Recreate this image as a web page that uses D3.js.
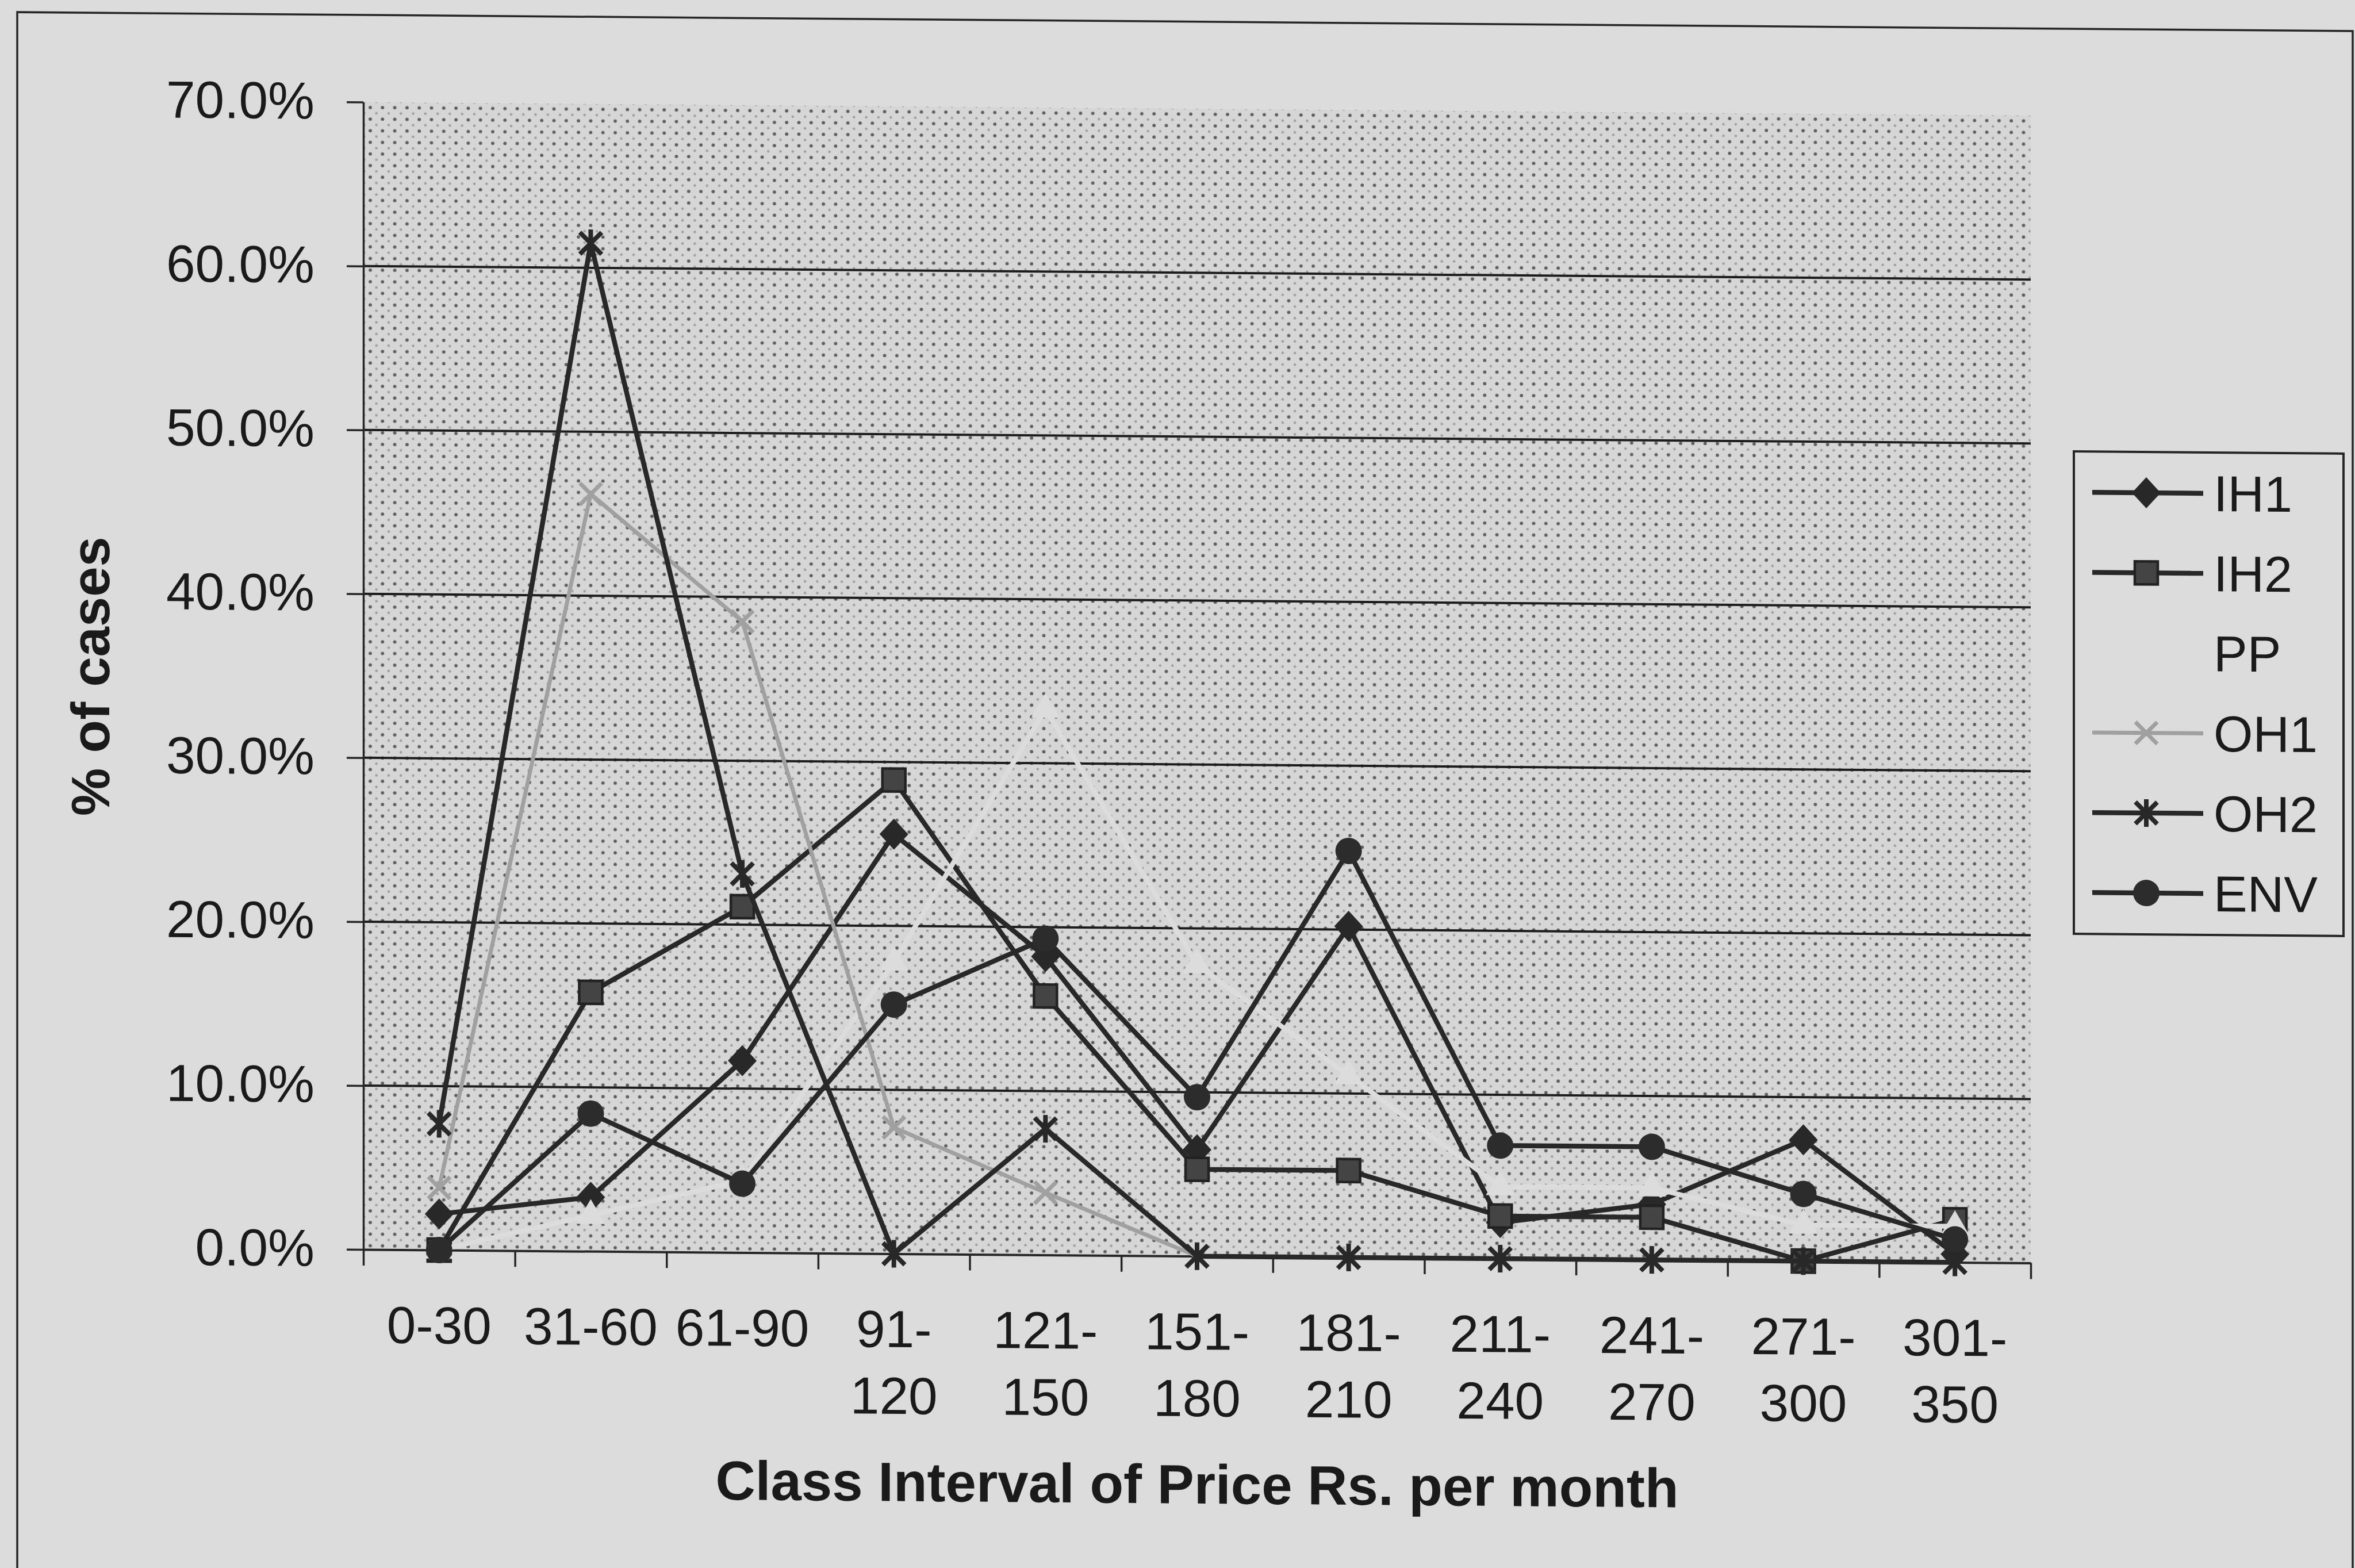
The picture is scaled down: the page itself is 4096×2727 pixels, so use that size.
<!DOCTYPE html>
<html>
<head>
<meta charset="utf-8">
<script src="https://cdn.jsdelivr.net/npm/d3@7"></script>
<style>
  html, body { margin: 0; padding: 0; background: #dcdcdc; }
  svg { display: block; }
</style>
</head>
<body>
<script>
// Price class intervals (Rs. per month)
const categories = ["0-30", "31-60", "61-90", "91-120", "121-150", "151-180",
                    "181-210", "211-240", "241-270", "271-300", "301-350"];
const seriesNames = ["IH1", "IH2", "PP", "OH1", "OH2", "ENV"];

// % of cases per interval, one array per series
const ih1 = [2.2, 3.3, 11.7, 25.6, 18.2, 6.5, 20.2, 2.2, 3.4, 7.4, 0.5];
const ih2 = [0.0, 15.8, 21.1, 28.9, 15.8, 5.3, 5.3, 2.6, 2.6, 0.0, 2.6];
const pp  = [0.0, 2.2, 4.4, 17.8, 33.3, 17.8, 11.1, 4.4, 4.4, 2.2, 2.2];
const oh1 = [3.8, 46.2, 38.5, 7.7, 3.8, 0.0, 0.0, 0.0, 0.0, 0.0, 0.0];
const oh2 = [7.7, 61.5, 23.1, 0.0, 7.7, 0.0, 0.0, 0.0, 0.0, 0.0, 0.0];
const env = [0.0, 8.4, 4.2, 15.2, 19.3, 9.7, 24.8, 6.9, 6.9, 4.1, 1.4];

const yTicks = [0, 10, 20, 30, 40, 50, 60, 70];

const W = 4096, H = 2727;
const BG = "#dcdcdc";
const INK = "#262626";
const FONT = "'Liberation Sans', Arial, sans-serif";

const plotLeft = 632, plotRight = 3532, plotTop = 177.6, plotBottom = 2173;
const skewDeg = Math.atan(0.0081) * 180 / Math.PI;

const x = d3.scaleBand().domain(categories).range([plotLeft, plotRight]);
const xEdge = d3.scaleLinear().domain([0, categories.length]).range([plotLeft, plotRight]);
const y = d3.scaleLinear().domain([0, 70]).range([plotBottom, plotTop]);
const cx = c => x(c) + x.bandwidth() / 2;

const svg = d3.select("body").append("svg").attr("width", W).attr("height", H);
svg.append("rect").attr("width", W).attr("height", H).attr("fill", BG);

// dotted fill of the plot area
const defs = svg.append("defs");
const pat = defs.append("pattern").attr("id", "dots")
  .attr("patternUnits", "userSpaceOnUse").attr("width", 21.3).attr("height", 20.2);
pat.append("rect").attr("width", 21.3).attr("height", 20.2).attr("fill", "#d6d6d6");
pat.append("circle").attr("cx", 5).attr("cy", 5).attr("r", 2.9).attr("fill", "#5e5e5e");
pat.append("circle").attr("cx", 15.65).attr("cy", 15.1).attr("r", 2.3).attr("fill", "#a0a0a0");

const root = svg.append("g")
  .attr("transform", `translate(${plotLeft},${plotBottom}) skewY(${skewDeg}) translate(${-plotLeft},${-plotBottom})`);

// outer chart border
root.append("rect").attr("x", 30).attr("y", 26).attr("width", 4062).attr("height", 2900)
  .attr("fill", "none").attr("stroke", INK).attr("stroke-width", 3.5);

// plot area
root.append("rect").attr("x", plotLeft).attr("y", plotTop)
  .attr("width", plotRight - plotLeft).attr("height", plotBottom - plotTop).attr("fill", "url(#dots)");

// horizontal gridlines
root.append("g").selectAll("line")
  .data(yTicks.filter(d => d > 0 && d < 70))
  .join("line")
  .attr("x1", plotLeft).attr("x2", plotRight)
  .attr("y1", d => y(d)).attr("y2", d => y(d))
  .attr("stroke", "#1c1c1c").attr("stroke-width", 4);

// y axis
const gy = root.append("g").attr("transform", `translate(${plotLeft},0)`)
  .call(d3.axisLeft(y).tickValues(yTicks).tickSize(29).tickSizeOuter(0).tickPadding(56)
    .tickFormat(d => d.toFixed(1) + "%"));
gy.select(".domain").attr("stroke", INK).attr("stroke-width", 3.5);
gy.selectAll(".tick line").attr("stroke", INK).attr("stroke-width", 3.5);
gy.selectAll(".tick text").attr("font-family", FONT).attr("font-size", 91).attr("fill", "#1a1a1a");

// x axis (ticks between categories)
const gx = root.append("g").attr("transform", `translate(0,${plotBottom})`)
  .call(d3.axisBottom(xEdge).tickValues(d3.range(categories.length + 1))
    .tickSize(28).tickSizeOuter(0).tickFormat(() => ""));
gx.select(".domain").attr("stroke", INK).attr("stroke-width", 4);
gx.selectAll(".tick line").attr("stroke", INK).attr("stroke-width", 3.5);

// category labels, wrapped after the hyphen when too long
const wrap = c => c.length > 5 ? [c.slice(0, c.indexOf("-") + 1), c.slice(c.indexOf("-") + 1)] : [c];
const xl = root.append("g").selectAll("text").data(categories).join("text")
  .attr("text-anchor", "middle").attr("font-family", FONT).attr("font-size", 91).attr("fill", "#1a1a1a");
xl.selectAll("tspan").data(d => wrap(d).map(t => ({ t, c: d }))).join("tspan")
  .attr("x", d => cx(d.c))
  .attr("y", (d, i) => plotBottom + 162.5 + i * 116)
  .text(d => d.t);

// axis titles
root.append("text").attr("x", (plotLeft + plotRight) / 2).attr("y", 2603)
  .attr("text-anchor", "middle").attr("font-family", FONT).attr("font-weight", "bold")
  .attr("font-size", 96).attr("fill", "#1a1a1a")
  .text("Class Interval of Price Rs. per month");
root.append("text").attr("transform", "translate(190,1180) rotate(-90)")
  .attr("text-anchor", "middle").attr("font-family", FONT).attr("font-weight", "bold")
  .attr("font-size", 94).attr("fill", "#1a1a1a")
  .text("% of cases");

// marker shapes
function drawMarker(g, type, px, py) {
  switch (type) {
    case "diamond":
      g.append("path").attr("d", `M${px},${py - 27}L${px + 25},${py}L${px},${py + 27}L${px - 25},${py}Z`)
        .attr("fill", "#282828");
      break;
    case "square":
      g.append("rect").attr("x", px - 20).attr("y", py - 20).attr("width", 40).attr("height", 40)
        .attr("fill", "#444").attr("stroke", "#222").attr("stroke-width", 4.5);
      break;
    case "triangle":
      g.append("path").attr("d", `M${px},${py - 28}L${px + 25},${py + 15}L${px - 25},${py + 15}Z`)
        .attr("fill", BG);
      break;
    case "x":
      g.append("path").attr("d", `M${px - 19},${py - 19}L${px + 19},${py + 19}M${px - 19},${py + 19}L${px + 19},${py - 19}`)
        .attr("stroke", "#a0a0a0").attr("stroke-width", 7).attr("fill", "none");
      break;
    case "star":
      g.append("path").attr("d", `M${px - 19},${py - 19}L${px + 19},${py + 19}M${px - 19},${py + 19}L${px + 19},${py - 19}M${px},${py - 24}L${px},${py + 24}`)
        .attr("stroke", "#282828").attr("stroke-width", 8).attr("fill", "none");
      break;
    case "circle":
      g.append("circle").attr("cx", px).attr("cy", py).attr("r", 23).attr("fill", "#2c2c2c");
      break;
  }
}

const series = [
  { name: seriesNames[0], values: ih1, color: "#282828", width: 8.5, marker: "diamond" },
  { name: seriesNames[1], values: ih2, color: "#282828", width: 8.5, marker: "square" },
  { name: seriesNames[2], values: pp,  color: BG,        width: 8.5, marker: "triangle" },
  { name: seriesNames[3], values: oh1, color: "#a0a0a0", width: 7,   marker: "x" },
  { name: seriesNames[4], values: oh2, color: "#282828", width: 8.5, marker: "star" },
  { name: seriesNames[5], values: env, color: "#282828", width: 8.5, marker: "circle" }
];

const line = d3.line().x((d, i) => cx(categories[i])).y(d => y(d));

series.forEach(s => {
  const g = root.append("g");
  g.append("path").attr("d", line(s.values)).attr("fill", "none")
    .attr("stroke", s.color).attr("stroke-width", s.width)
    .attr("stroke-linejoin", "round").attr("stroke-linecap", "round");
  s.values.forEach((v, i) => drawMarker(g, s.marker, cx(categories[i]), y(v)));
});

// legend
const lg = root.append("g");
lg.append("rect").attr("x", 3607).attr("y", 761).attr("width", 469).attr("height", 839)
  .attr("fill", "none").attr("stroke", INK).attr("stroke-width", 4);
series.forEach((s, i) => {
  const ly = 832 + i * 139.2;
  lg.append("line").attr("x1", 3639).attr("x2", 3832).attr("y1", ly).attr("y2", ly)
    .attr("stroke", s.color).attr("stroke-width", s.width);
  drawMarker(lg, s.marker, 3733, ly);
  lg.append("text").attr("x", 3850).attr("y", ly + 31)
    .attr("font-family", FONT).attr("font-size", 88).attr("fill", "#1a1a1a").text(s.name);
});
</script>
</body>
</html>
